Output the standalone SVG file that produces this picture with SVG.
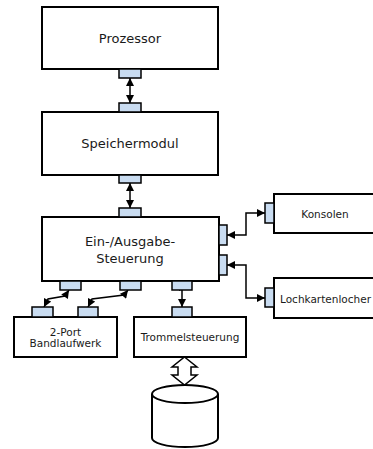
<svg xmlns="http://www.w3.org/2000/svg" width="373" height="449" viewBox="0 0 373 449">
  <style>
    .box { fill: #ffffff; stroke: #000000; stroke-width: 2; }
    .port { fill: #c9dcf1; stroke: #000000; stroke-width: 1.5; }
    .link { fill: none; stroke: #000000; stroke-width: 1.5; }
    .lbl { font-family: "DejaVu Sans", Verdana, sans-serif; fill: #1a1a1a; text-anchor: middle; }
    .big { font-size: 13px; }
    .small { font-size: 10.5px; }
    .hollow { fill: #ffffff; stroke: #000000; stroke-width: 1.5; stroke-linejoin: miter; }
  </style>
  <defs>
    <marker id="ah" viewBox="0 0 10 10" refX="10" refY="5" markerWidth="9" markerHeight="8" markerUnits="userSpaceOnUse" orient="auto-start-reverse">
      <path d="M0,0 L10,5 L0,10 Z" fill="#000000"/>
    </marker>
  </defs>

  <rect width="373" height="449" fill="#ffffff"/>

  <!-- connectors -->
  <g id="connectors">
    <path class="link" d="M130,78 L130,103" marker-start="url(#ah)" marker-end="url(#ah)"/>
    <path class="link" d="M130,183 L130,208" marker-start="url(#ah)" marker-end="url(#ah)"/>
    <path class="link" d="M227,235 L246,235 L246,213 L265,213" marker-start="url(#ah)" marker-end="url(#ah)"/>
    <path class="link" d="M227,265 L246,265 L246,298 L265,298" marker-start="url(#ah)" marker-end="url(#ah)"/>
    <path class="link" d="M44,307 L48,299 L65,296 L69,290" marker-start="url(#ah)" marker-end="url(#ah)"/>
    <path class="link" d="M88,307 L92,299 L124,295 L128,290" marker-start="url(#ah)" marker-end="url(#ah)"/>
    <path class="link" d="M182,287 L182,307" marker-end="url(#ah)"/>
    <path class="link" d="M176,287 L187,287" marker-end="url(#ah)"/>
    <!-- hollow double arrow to the drum store -->
    <path class="hollow" d="M184.5,357 L197,367 L191,367 L191,375 L197,375 L184.5,385 L172,375 L178,375 L178,367 L172,367 Z"/>
  </g>

  <g id="prozessor">
    <rect class="box" x="42" y="7" width="176" height="62"/>
    <text class="lbl big" x="130" y="43">Prozessor</text>
    <rect class="port" x="119" y="69" width="22" height="9"/>
  </g>

  <g id="speichermodul">
    <rect class="box" x="42" y="112" width="176" height="63"/>
    <text class="lbl big" x="130" y="148">Speichermodul</text>
    <rect class="port" x="119" y="103" width="22" height="9"/>
    <rect class="port" x="119" y="175" width="22" height="8"/>
  </g>

  <g id="ein-ausgabe">
    <rect class="box" x="42" y="217" width="177" height="64"/>
    <text class="lbl big" x="130" y="246">Ein-/Ausgabe-</text>
    <text class="lbl big" x="130" y="263">Steuerung</text>
    <rect class="port" x="119" y="208" width="22" height="9"/>
    <rect class="port" x="219" y="225" width="8" height="20"/>
    <rect class="port" x="219" y="255" width="8" height="20"/>
    <rect class="port" x="60" y="281" width="21" height="9"/>
    <rect class="port" x="120" y="281" width="21" height="9"/>
    <rect class="port" x="172" y="281" width="20" height="9"/>
  </g>

  <g id="konsolen">
    <rect class="box" x="274" y="194" width="110" height="39"/>
    <text class="lbl small" x="325" y="218">Konsolen</text>
    <rect class="port" x="265" y="203" width="9" height="20"/>
  </g>

  <g id="lochkartenlocher">
    <rect class="box" x="274" y="278" width="110" height="40"/>
    <text class="lbl small" x="325.5" y="303">Lochkartenlocher</text>
    <rect class="port" x="265" y="288" width="9" height="19"/>
  </g>

  <g id="bandlaufwerk">
    <rect class="box" x="14" y="317" width="103" height="40"/>
    <text class="lbl small" x="65.5" y="335.5">2-Port</text>
    <text class="lbl small" x="65.5" y="347">Bandlaufwerk</text>
    <rect class="port" x="32" y="307" width="21" height="10"/>
    <rect class="port" x="78" y="307" width="20" height="10"/>
  </g>

  <g id="trommelsteuerung">
    <rect class="box" x="134" y="317" width="112" height="40"/>
    <text class="lbl small" x="190" y="341">Trommelsteuerung</text>
    <rect class="port" x="172" y="307" width="20" height="10"/>
  </g>

  <g id="trommelspeicher">
    <path class="box" d="M152,394 L152,438 A33,9 0 0 0 218,438 L218,394"/>
    <ellipse class="box" cx="185" cy="394" rx="33" ry="9"/>
  </g>
</svg>
